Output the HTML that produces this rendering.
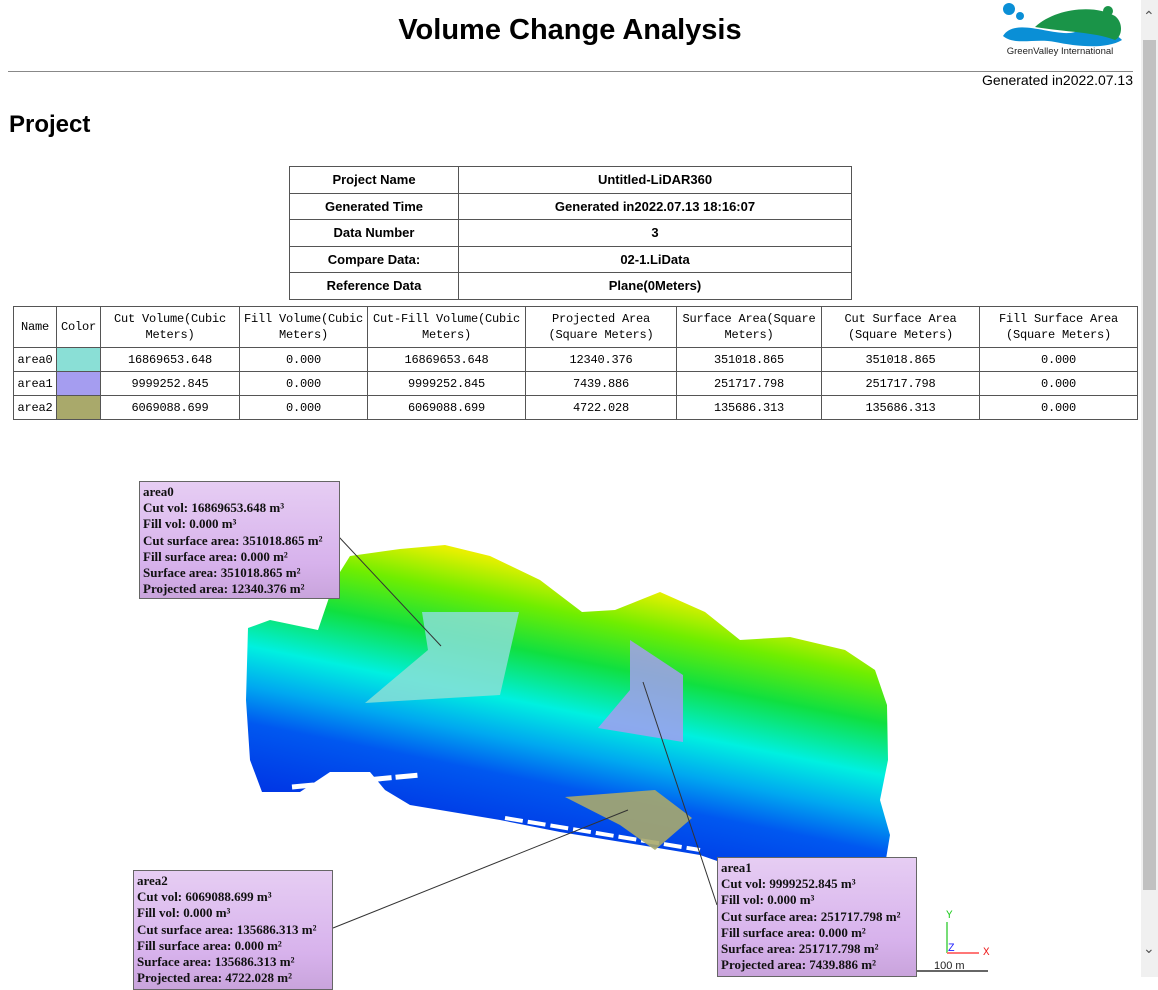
<!DOCTYPE html>
<html><head><meta charset="utf-8"><style>
body{margin:0;width:1158px;height:977px;overflow:hidden;background:#fff;font-family:"Liberation Sans",Arial,sans-serif;position:relative}
.abs{position:absolute}
table{border-collapse:collapse;position:absolute}
td{border:1px solid #555;text-align:center;padding:0}
#t1 td{font-weight:bold;font-size:13px;height:25.5px}
#t2 td{font-family:"Liberation Mono","Noto Sans CJK SC",monospace;font-size:12px;line-height:16px;letter-spacing:-0.2px}
.lbl{position:absolute;background:linear-gradient(#e6cdf3,#d7b2ec 70%,#c9a4dc);border:1px solid #666;font-family:"Liberation Serif",serif;font-weight:bold;font-size:13px;line-height:16.2px;padding:2px 3px;box-sizing:border-box;color:#111;white-space:nowrap;overflow:hidden}
</style></head><body>
<div class="abs" style="left:0;width:1140px;top:14px;text-align:center;font-size:29px;font-weight:bold">Volume Change Analysis</div>
<svg class="abs" style="left:995px;top:2px" width="130" height="56">
<circle cx="14" cy="7" r="6" fill="#0a8fd6"/><circle cx="25" cy="14" r="4" fill="#0a8fd6"/>
<path d="M8 34 C 20 14,60 36,80 30 C 100 26,120 30,127 38 C 110 48,80 44,60 40 C 40 36,20 44,8 34Z" fill="#0a8fd6"/>
<path d="M40 25 C 60 6,100 2,120 14 C 128 20,128 34,120 38 C 100 30,70 30,40 25Z" fill="#1a9448"/>
<circle cx="113" cy="9" r="5" fill="#1a9448"/>
<text x="65" y="52" font-size="9.5" text-anchor="middle" fill="#222" font-family="Liberation Sans">GreenValley International</text>
</svg>
<div class="abs" style="left:8px;width:1125px;top:71px;border-top:1px solid #888"></div>
<div class="abs" style="right:25px;top:72px;font-size:14px">Generated in2022.07.13</div>
<div class="abs" style="left:9px;top:111px;font-size:24px;font-weight:bold">Project</div>
<div class="abs" style="left:1141px;top:0;width:17px;height:977px;background:#f0f0f0"></div>
<div class="abs" style="left:1143px;top:40px;width:13px;height:850px;background:#c1c1c1"></div>
<div class="abs" style="left:1143px;top:8px;font-size:14px;color:#555">&#8963;</div>
<div class="abs" style="left:1143px;top:940px;font-size:14px;color:#555">&#8964;</div>
<table id="t1" style="left:289px;top:166px;width:563px">
<tr><td style="width:168px">Project Name</td><td>Untitled-LiDAR360</td></tr>
<tr><td>Generated Time</td><td>Generated in2022.07.13 18:16:07</td></tr>
<tr><td>Data Number</td><td>3</td></tr>
<tr><td>Compare Data:</td><td>02-1.LiData</td></tr>
<tr><td>Reference Data</td><td>Plane(0Meters)</td></tr>
</table>
<table id="t2" style="left:13px;top:306px;width:1125px">
<tr style="height:41px"><td style="width:42px">Name</td><td style="width:43px">Color</td><td style="width:138px">Cut Volume(Cubic Meters)</td><td style="width:127px">Fill Volume(Cubic Meters)</td><td style="width:157px">Cut-Fill Volume(Cubic Meters)</td><td style="width:150px">Projected Area (Square Meters)</td><td style="width:144px">Surface Area(Square Meters)</td><td style="width:157px">Cut Surface Area (Square Meters)</td><td>Fill Surface Area (Square Meters)</td></tr>
<tr style="height:24px"><td>area0</td><td style="background:#8adfd6"></td><td>16869653.648</td><td>0.000</td><td>16869653.648</td><td>12340.376</td><td>351018.865</td><td>351018.865</td><td>0.000</td></tr>
<tr style="height:24px"><td>area1</td><td style="background:#a59df0"></td><td>9999252.845</td><td>0.000</td><td>9999252.845</td><td>7439.886</td><td>251717.798</td><td>251717.798</td><td>0.000</td></tr>
<tr style="height:24px"><td>area2</td><td style="background:#a9a96b"></td><td>6069088.699</td><td>0.000</td><td>6069088.699</td><td>4722.028</td><td>135686.313</td><td>135686.313</td><td>0.000</td></tr>
</table>
<svg class="abs" style="left:0;top:0" width="1140" height="977">
<defs><linearGradient id="g" x1="480" y1="555" x2="420" y2="850" gradientUnits="userSpaceOnUse">
<stop offset="0" stop-color="#e8f000"/><stop offset="0.13" stop-color="#70ee00"/><stop offset="0.28" stop-color="#10e040"/><stop offset="0.45" stop-color="#00f0e0"/><stop offset="0.58" stop-color="#00a8f0"/><stop offset="0.7" stop-color="#0058f0"/><stop offset="1" stop-color="#0028e0"/></linearGradient></defs>
<path d="M248 628 L270 620 L318 630 L335 580 L350 556 L400 549 L445 545 L490 556 L540 580 L582 612 L615 610 L660 592 L705 612 L740 640 L790 637 L845 650 L875 670 L887 705 L888 760 L880 800 L890 835 L885 865 L860 875 L830 878 L800 870 L720 862 L700 855 L640 845 L560 832 L500 820 L440 810 L410 805 L385 790 L370 772 L330 772 L300 792 L262 792 L250 760 L246 700Z" fill="url(#g)"/>
<line x1="292" y1="787" x2="420" y2="775" stroke="#fff" stroke-width="5" stroke-dasharray="22,4"/>
<line x1="505" y1="818" x2="700" y2="850" stroke="#fff" stroke-width="4" stroke-dasharray="18,5"/>
<polygon points="422,612 519,612 500,695 365,703 428,650" fill="#8adfd6" opacity="0.85"/>
<polygon points="630,640 683,675 683,742 598,728 630,690" fill="#a59df0" opacity="0.85"/>
<polygon points="565,797 655,790 692,818 655,850 620,825" fill="#a9a96b" opacity="0.9"/>
<line x1="339" y1="537" x2="441" y2="646" stroke="#333"/>
<line x1="643" y1="682" x2="717" y2="905" stroke="#333"/>
<line x1="333" y1="928" x2="628" y2="810" stroke="#333"/>
<line x1="947" y1="922" x2="947" y2="953" stroke="#7d7" stroke-width="2"/>
<line x1="947" y1="953" x2="979" y2="953" stroke="#f77" stroke-width="2"/>
<text x="946" y="918" fill="#2c2" font-size="11" font-family="Liberation Mono">Y</text>
<text x="948" y="951" fill="#22f" font-size="11" font-family="Liberation Mono">Z</text>
<text x="983" y="955" fill="#e22" font-size="11" font-family="Liberation Mono">X</text>
<line x1="915" y1="971" x2="988" y2="971" stroke="#666" stroke-width="2"/>
<text x="934" y="969" font-size="11" font-family="Liberation Sans" fill="#222">100 m</text>
</svg>
<div class="lbl" style="left:139px;top:481px;width:201px;height:118px">area0<br>Cut vol: 16869653.648 m³<br>Fill vol: 0.000 m³<br>Cut surface area: 351018.865 m²<br>Fill surface area: 0.000 m²<br>Surface area: 351018.865 m²<br>Projected area: 12340.376 m²</div>
<div class="lbl" style="left:717px;top:857px;width:200px;height:120px">area1<br>Cut vol: 9999252.845 m³<br>Fill vol: 0.000 m³<br>Cut surface area: 251717.798 m²<br>Fill surface area: 0.000 m²<br>Surface area: 251717.798 m²<br>Projected area: 7439.886 m²</div>
<div class="lbl" style="left:133px;top:870px;width:200px;height:120px">area2<br>Cut vol: 6069088.699 m³<br>Fill vol: 0.000 m³<br>Cut surface area: 135686.313 m²<br>Fill surface area: 0.000 m²<br>Surface area: 135686.313 m²<br>Projected area: 4722.028 m²</div>
</body></html>
